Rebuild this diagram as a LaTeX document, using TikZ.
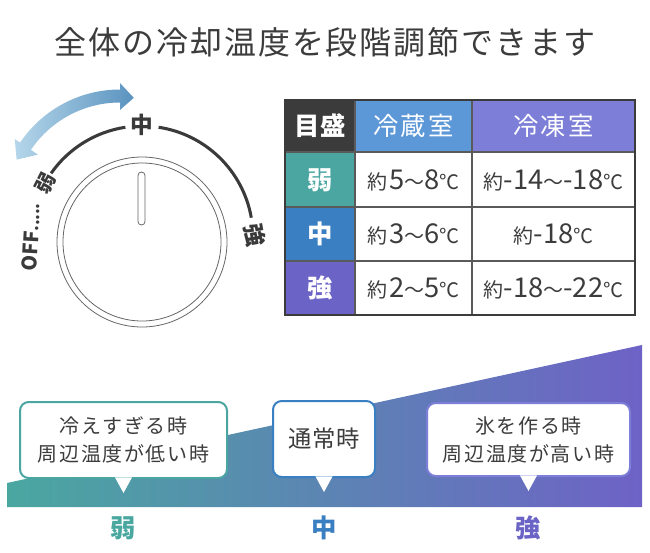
\documentclass[tikz,border=0pt]{standalone}
\usepackage{fontspec}
\setmainfont{Noto Sans CJK JP}
\definecolor{ink}{HTML}{3C3C3C}
\definecolor{dialgray}{HTML}{666666}
\definecolor{arcgray}{HTML}{3A3A3A}
\definecolor{arrL}{HTML}{B5D6EA}
\definecolor{arrR}{HTML}{5A93BF}
\definecolor{hdark}{HTML}{3B3B3B}
\definecolor{hblue}{HTML}{5C97D7}
\definecolor{hpurple}{HTML}{7C7ED8}
\definecolor{rteal}{HTML}{4BA6A2}
\definecolor{rblue}{HTML}{3A7FC1}
\definecolor{rpurple}{HTML}{6B63C6}
\definecolor{cteal}{HTML}{4AA7A0}
\definecolor{cblue}{HTML}{3D80C0}
\definecolor{cpurple}{HTML}{6E62C6}
\definecolor{gridc}{HTML}{5A5A5A}
\newcommand\yaku{{\fontsize{15}{15}\selectfont 約}}
\newcommand\dC{{\fontsize{15}{15}\selectfont ℃}}
\newcommand\wv{{\fontsize{15}{15}\selectfont 〜}}
\begin{document}
\begin{tikzpicture}[x=0.75pt,y=-0.75pt,
  every node/.style={inner sep=0pt, text=ink},
  dialline/.style={draw=dialgray, line width=0.6pt},
  arcline/.style={draw=arcgray, line width=2.3pt},
  dlabel/.style={font=\fontsize{17}{17}\selectfont\bfseries, text=arcgray},
  hd/.style={font=\fontsize{19}{20}\selectfont\addfontfeature{LetterSpace=8}, text=white},
  rh/.style={font=\fontsize{19}{20}\selectfont\bfseries, text=white},
  cell/.style={font=\fontsize{20.5}{21}\selectfont, text=ink},
  gridline/.style={draw=gridc, line width=0.8pt},
  bubble/.style={draw, fill=white, line width=1.5pt, rounded corners=6.5pt, align=center,
    font=\fontsize{15}{21}\selectfont\addfontfeature{LetterSpace=8}, text=ink},
  blabel/.style={font=\fontsize{19}{20}\selectfont\bfseries}
]
\useasboundingbox (0,0) rectangle (650,553);

% title
\node[font=\fontsize{24}{28}\selectfont\addfontfeature{LetterSpace=6}] (title) at (325,42) {全体の冷却温度を段階調節できます};

% dial
\coordinate (dc) at (142,242);
\coordinate (ac) at (142,237);
\draw[dialline] (dc) circle[radius=85];
\draw[dialline] (dc) circle[radius=79];
\draw[dialline, rounded corners=2.6pt] (138,172) rectangle (145,225);
\draw[arcline] ([shift={(-145:111)}]ac) arc[start angle=-145, end angle=-98.6, radius=111];
\draw[arcline] ([shift={(-81.4:111)}]ac) arc[start angle=-81.4, end angle=-10, radius=111];
\node[dlabel] (lmid) at (142,125) {中};
\node[dlabel, rotate=-80] (lstrong) at (255,235) {強};
\node[dlabel, rotate=63, font=\fontsize{15}{15}\selectfont\bfseries] (lweak) at (46,183) {弱};
\node[dlabel, rotate=87, font=\fontsize{15}{15}\selectfont\bfseries] (loff) at (31,237) {OFF{\fontsize{12}{12}\selectfont.....}};

% blue double arrow
\begin{scope}[shift={(120,210)}]
\shade[left color=arrL, right color=arrR]
  (-90:107.5) arc[start angle=-90, end angle=-146, radius=107.5]
  -- (-146:99) -- (-154:115) -- (-146:127) -- (-146:120.5)
  arc[start angle=-146, end angle=-90, radius=120.5]
  -- (-90:127) -- (-83:113) -- (-90:100) -- cycle;
\end{scope}

% table
\fill[hdark] (285,100) rectangle (355,152);
\fill[hblue] (355,100) rectangle (472,152);
\fill[hpurple] (472,100) rectangle (635,152);
\fill[rteal] (285,152) rectangle (355,207);
\fill[rblue] (285,207) rectangle (355,261);
\fill[rpurple] (285,261) rectangle (355,315);
\draw[gridline] (355,100) -- (355,315);
\draw[gridline] (472,100) -- (472,315);
\draw[gridline] (285,152) -- (635,152);
\draw[gridline] (285,207) -- (635,207);
\draw[gridline] (285,261) -- (635,261);
\draw[draw=hdark, line width=1.6pt] (285,100) rectangle (635,315);

\node[hd, font=\fontsize{19}{20}\selectfont\bfseries] (h0) at (320,126) {目盛};
\node[hd] (h1) at (413.5,126) {冷蔵室};
\node[hd] (h2) at (553.5,126) {冷凍室};
\node[rh] (r1) at (320,180) {弱};
\node[rh] (r2) at (320,234) {中};
\node[rh] (r3) at (320,288) {強};
\node[cell] (c11) at (413.5,180) {\yaku\kern1.5pt5\wv8\dC};
\node[cell] (c12) at (553.5,180) {\yaku-14\wv-18\dC};
\node[cell] (c21) at (413.5,234) {\yaku\kern1.5pt3\wv6\dC};
\node[cell] (c22) at (553.5,234) {\yaku-18\dC};
\node[cell] (c31) at (413.5,288) {\yaku\kern1.5pt2\wv5\dC};
\node[cell] (c32) at (553.5,288) {\yaku-18\wv-22\dC};

% bottom gradient band
\shade[left color=cteal, middle color=cblue, right color=cpurple]
  (7,483) -- (642,345) -- (642,507) -- (7,507) -- cycle;

% bubbles
\node[bubble, draw=rteal, minimum width=155.25pt, minimum height=57pt] (b1) at (123.5,440) {冷えすぎる時\\周辺温度が低い時};
\node[bubble, draw=rblue, minimum width=76.5pt, minimum height=57pt, font=\fontsize{17.5}{21}\selectfont\addfontfeature{LetterSpace=4}] (b2) at (324,439) {通常時};
\node[bubble, draw=hpurple, minimum width=152.25pt, minimum height=54.75pt] (b3) at (528.5,439.5) {氷を作る時\\周辺温度が高い時};
\foreach \b in {b1,b2,b3}{
  \fill[white] ([xshift=-6.4pt,yshift=1.2pt]\b.south) -- ([yshift=-10.5pt]\b.south) -- ([xshift=6.4pt,yshift=1.2pt]\b.south) -- cycle;
}

% bottom labels
\node[blabel, text=cteal] (l1) at (123,528) {弱};
\node[blabel, text=rblue] (l2) at (324,528) {中};
\node[blabel, text=rpurple] (l3) at (528,528) {強};
\end{tikzpicture}
\end{document}
